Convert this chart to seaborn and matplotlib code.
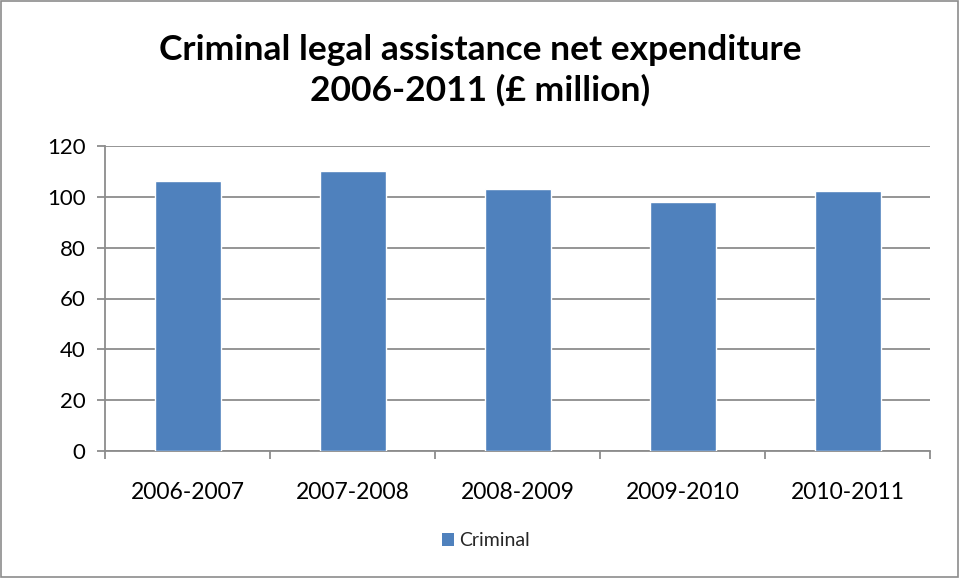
import matplotlib
matplotlib.use("Agg")
import matplotlib.pyplot as plt
import seaborn as sns
import pandas as pd
from matplotlib.patches import Rectangle, Patch

# Criminal legal assistance net expenditure, £ million
years = ["2006-2007", "2007-2008", "2008-2009", "2009-2010", "2010-2011"]
criminal = [106.4, 110.3, 103.0, 98.0, 102.4]
y_ticks = [0, 20, 40, 60, 80, 100, 120]

sns.set_theme(style="white")
plt.rcParams["font.family"] = ["Lato", "DejaVu Sans"]

df = pd.DataFrame({"year": years, "value": criminal})

fig = plt.figure(figsize=(9.6, 5.78), dpi=100)
ax = fig.add_axes([105 / 960, 1 - 451 / 578, 825 / 960, 305 / 578])

bar_color = "#4F81BD"
sns.barplot(data=df, x="year", y="value", color=bar_color, width=0.4,
            saturation=1, ax=ax, zorder=3)

ax.set_ylim(0, 120)
ax.set_xlim(-0.5, len(years) - 0.5)
ax.set_yticks(y_ticks)
ax.set_yticklabels([str(t) for t in y_ticks], fontsize=16, color="black")
ax.yaxis.grid(True, color="#8C8C8C", linewidth=1.3, zorder=0)
ax.set_xlabel("")
ax.set_ylabel("")

# Category boundary ticks on the x axis, labels centred between them
ax.set_xticks(range(len(years)))
ax.set_xticklabels(years, fontsize=16.5, color="black")
ax.set_xticks([i - 0.5 for i in range(len(years) + 1)], minor=True)
ax.tick_params(axis="x", which="major", length=0, pad=22)
ax.tick_params(axis="x", which="minor", length=6, width=1.3, color="#8C8C8C",
               direction="out", bottom=True)
ax.tick_params(axis="y", which="major", length=6, width=1.3, color="#8C8C8C",
               direction="out", left=True, pad=8)

for side in ["top", "right"]:
    ax.spines[side].set_visible(False)
for side in ["left", "bottom"]:
    ax.spines[side].set_color("#8C8C8C")
    ax.spines[side].set_linewidth(1.3)

fig.text(0.5, 1 - 70 / 578, "Criminal legal assistance net expenditure\n2006-2011 (£ million)",
         ha="center", va="center", fontsize=25.5, fontweight="bold",
         linespacing=1.3, color="black")

handle = Patch(facecolor=bar_color, edgecolor="none")
fig.legend([handle], ["Criminal"], loc="center", bbox_to_anchor=(486 / 960, 1 - 541 / 578),
           frameon=False, fontsize=14, handlelength=0.6, handleheight=0.6,
           handletextpad=0.25)

# Outer chart border
fig.patches.append(Rectangle((0.001, 0.001), 0.997, 0.997, transform=fig.transFigure,
                             fill=False, edgecolor="#8C8C8C", linewidth=1.2))

fig.savefig("out.png", dpi=100)
